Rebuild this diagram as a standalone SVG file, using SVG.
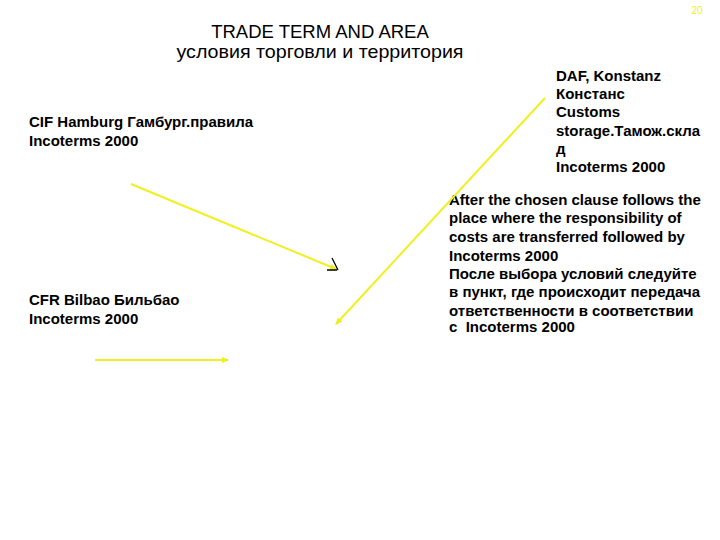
<svg xmlns="http://www.w3.org/2000/svg" width="720" height="540" viewBox="0 0 720 540">
<style>
.t{font-family:"Liberation Sans",Arial,sans-serif;fill:#000}
.title{font-size:18.5px;text-anchor:middle}
.b{font-size:15px;font-weight:bold}
.c{stroke:#f0f020;stroke-width:2;fill:none}
</style>
<defs>
<marker id="ah" markerWidth="8" markerHeight="8" refX="6" refY="4" orient="auto" markerUnits="userSpaceOnUse">
<path d="M0,1 L7,4 L0,7 z" fill="#e8f020"/>
</marker>
</defs>
<rect width="720" height="540" fill="#fff"/>
<text class="t" x="697" y="14" style="font-size:10px;fill:#f0f020;text-anchor:middle">20</text>
<g id="title">
<text class="t title" x="320" y="38">TRADE TERM AND AREA</text>
<text class="t title" x="320" y="58" textLength="287" lengthAdjust="spacingAndGlyphs">условия торговли и территория</text>
</g>
<g id="cif">
<text class="t b" x="29" y="127">CIF Hamburg Гамбург.правила</text>
<text class="t b" x="29" y="146">Incoterms 2000</text>
</g>
<g id="cfr">
<text class="t b" x="29" y="305">CFR Bilbao Бильбао</text>
<text class="t b" x="29" y="324">Incoterms 2000</text>
</g>
<g id="daf">
<text class="t b" x="556" y="81">DAF, Konstanz</text>
<text class="t b" x="556" y="99">Констанс</text>
<text class="t b" x="556" y="117">Customs</text>
<text class="t b" x="556" y="136">storage.Тамож.скла</text>
<text class="t b" x="556" y="154">д</text>
<text class="t b" x="556" y="172">Incoterms 2000</text>
</g>
<g id="note">
<text class="t b" x="449" y="205">After the chosen clause follows the</text>
<text class="t b" x="449" y="223">place where the responsibility of</text>
<text class="t b" x="449" y="242">costs are transferred followed by</text>
<text class="t b" x="449" y="261">Incoterms 2000</text>
<text class="t b" x="449" y="279">После выбора условий следуйте</text>
<text class="t b" x="449" y="297">в пункт, где происходит передача</text>
<text class="t b" x="449" y="316">ответственности в соответствии</text>
<text class="t b" x="449" y="332">с&#160; Incoterms 2000</text>
</g>
<g id="connectors">
<line class="c" x1="131" y1="184" x2="336" y2="269" marker-end="url(#ah)"/>
<path d="M332,258 L338,270 M327,270 L337,270" stroke="#000" stroke-width="1.3" fill="none"/>
<line class="c" x1="545" y1="98" x2="336" y2="324" marker-end="url(#ah)"/>
<line class="c" x1="95" y1="360" x2="228" y2="360" marker-end="url(#ah)"/>
</g>
</svg>
